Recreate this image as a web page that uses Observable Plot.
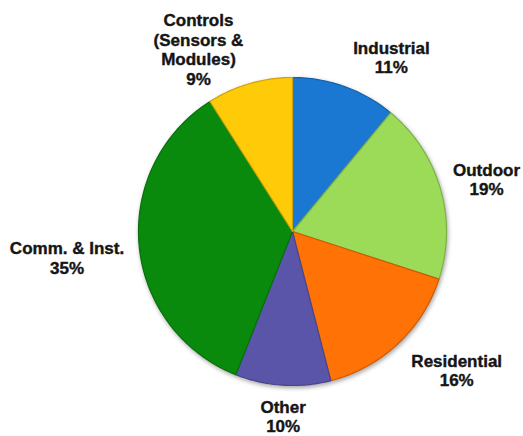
<!DOCTYPE html>
<html><head><meta charset="utf-8">
<script src="https://cdn.jsdelivr.net/npm/d3@7"></script>
<script src="https://cdn.jsdelivr.net/npm/@observablehq/plot@0.6"></script>
<style>
html,body{margin:0;padding:0;background:#fff;}
#chart svg{display:block;}
#chart g[aria-label="line"]{filter:drop-shadow(1px 2px 2px rgba(0,0,0,0.35));}
</style></head><body><div id="chart"></div>
<script>
// ---- data ----
const categories = ["Industrial", "Outdoor", "Residential", "Other", "Comm. & Inst.", "Controls\n(Sensors &\nModules)"];
const shares = [11, 19, 16, 10, 35, 9];
const colors = ["#1a78d2", "#9cdb58", "#ff7206", "#5b55aa", "#0a8a0d", "#ffcb08"];

// ---- layout ----
const W = 523, H = 436, CX = 292, CY = 231, R = 154;
const labelPlace = [[29.6, 1.30], [74.9, 1.305], [130.2, 1.396], [182.9, 1.20], [263.4, 1.474], [332.7, 1.331]];

const pie = d3.pie().sort(null).value(d => d)(shares);
const rows = [];
pie.forEach((p, i) => {
  const base = d3.color(colors[i]);
  const edge = base.darker(0.6).formatHex();
  const push = (x, y) => rows.push({name: categories[i], x, y, fill: colors[i], edge});
  push(0, 0);
  const n = Math.max(2, Math.ceil((p.endAngle - p.startAngle) / (Math.PI / 180)));
  for (let k = 0; k <= n; k++) {
    const a = p.startAngle + (p.endAngle - p.startAngle) * k / n;
    push(Math.sin(a), Math.cos(a));
  }
});
const labels = categories.map((c, i) => {
  const [deg, rf] = labelPlace[i];
  const a = deg * Math.PI / 180;
  return {text: c + "\n" + shares[i] + "%", x: rf * Math.sin(a), y: rf * Math.cos(a)};
});

const chart = Plot.plot({
  width: W, height: H, margin: 0,
  x: {domain: [-CX / R, (W - CX) / R], range: [0, W], axis: null},
  y: {domain: [-(H - CY) / R, CY / R], range: [H, 0], axis: null},
  marks: [
    Plot.line(rows, {x: "x", y: "y", z: "name", fill: "fill", stroke: "edge", strokeWidth: 1.2, curve: "linear-closed"}),
    Plot.text(labels, {x: "x", y: "y", text: "text", fontSize: 17, fontWeight: "bold", fill: "#151515",
      stroke: "#151515", strokeWidth: 0.4,
      fontFamily: "'Liberation Sans', Arial, sans-serif", lineHeight: 1.15, textAnchor: "middle", lineAnchor: "middle"})
  ]
});
document.getElementById("chart").append(chart);
</script></body></html>
